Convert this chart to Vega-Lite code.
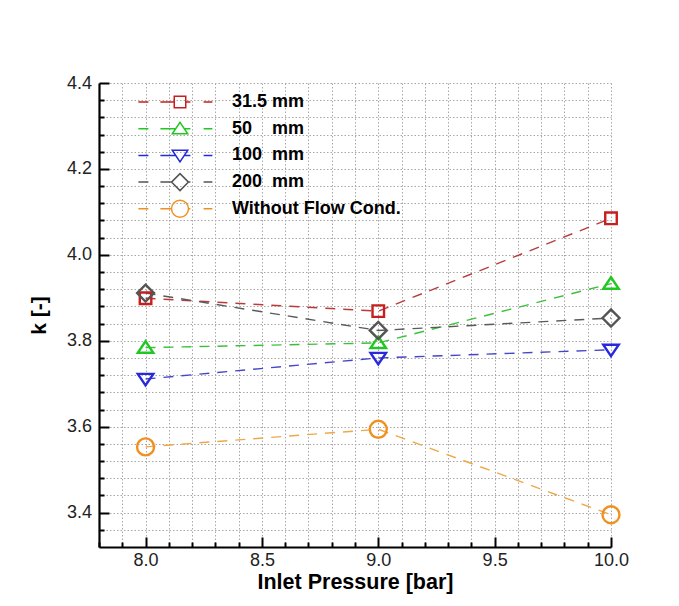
{
  "$schema": "https://vega.github.io/schema/vega-lite/v6.json",
  "width": 512,
  "height": 464,
  "autosize": {"type": "none"},
  "padding": {"left": 99, "top": 83, "right": 68, "bottom": 59},
  "background": "white",
  "config": {"view": {"stroke": null}},
  "data": {
    "values": [
      {"series": "31.5 mm", "p": 8.0, "k": 3.899},
      {"series": "31.5 mm", "p": 9.0, "k": 3.869},
      {"series": "31.5 mm", "p": 10.0, "k": 4.085},
      {"series": "50 mm", "p": 8.0, "k": 3.784},
      {"series": "50 mm", "p": 9.0, "k": 3.795},
      {"series": "50 mm", "p": 10.0, "k": 3.933},
      {"series": "100 mm", "p": 8.0, "k": 3.711},
      {"series": "100 mm", "p": 9.0, "k": 3.760},
      {"series": "100 mm", "p": 10.0, "k": 3.779},
      {"series": "200 mm", "p": 8.0, "k": 3.911},
      {"series": "200 mm", "p": 9.0, "k": 3.824},
      {"series": "200 mm", "p": 10.0, "k": 3.853},
      {"series": "Without Flow Cond.", "p": 8.0, "k": 3.553},
      {"series": "Without Flow Cond.", "p": 9.0, "k": 3.594},
      {"series": "Without Flow Cond.", "p": 10.0, "k": 3.395}
    ]
  },
  "encoding": {
    "x": {
      "field": "p",
      "type": "quantitative",
      "scale": {"domain": [7.8, 10.0], "nice": false, "zero": false},
      "axis": {
        "values": [7.8, 7.9, 8.0, 8.1, 8.2, 8.3, 8.4, 8.5, 8.6, 8.7, 8.8, 8.9, 9.0, 9.1, 9.2, 9.3, 9.4, 9.5, 9.6, 9.7, 9.8, 9.9, 10.0],
        "tickSize": {"condition": {"test": "abs(datum.value*2 - round(datum.value*2)) < 0.001", "value": -10}, "value": -5},
        "tickWidth": 2,
        "tickColor": "black",
        "labelExpr": "abs(datum.value*2 - round(datum.value*2)) < 0.001 ? format(datum.value, '.1f') : ''",
        "labelOverlap": false,
        "labelFlush": false,
        "labelPadding": 14,
        "labelFont": "Liberation Sans",
        "labelFontSize": 18,
        "labelColor": "#222222",
        "grid": true,
        "gridDash": [1.5, 2],
        "gridColor": "#a8a8a8",
        "gridWidth": 1,
        "domainColor": "black",
        "domainWidth": 2.2,
        "title": "Inlet Pressure [bar]",
        "titleFont": "Liberation Sans",
        "titleFontSize": 21.5,
        "titleFontWeight": "bold",
        "titleColor": "black",
        "titleY": 41,
        "titleBaseline": "alphabetic"
      }
    },
    "y": {
      "field": "k",
      "type": "quantitative",
      "scale": {"domain": [3.32, 4.4], "nice": false, "zero": false},
      "axis": {
        "values": [3.36, 3.4, 3.44, 3.48, 3.52, 3.56, 3.6, 3.64, 3.68, 3.72, 3.76, 3.8, 3.84, 3.88, 3.92, 3.96, 4.0, 4.04, 4.08, 4.12, 4.16, 4.2, 4.24, 4.28, 4.32, 4.36, 4.4],
        "tickSize": {"condition": {"test": "abs(datum.value*5 - round(datum.value*5)) < 0.001", "value": -10}, "value": -5},
        "tickWidth": 2,
        "tickColor": "black",
        "labelExpr": "abs(datum.value*5 - round(datum.value*5)) < 0.001 ? format(datum.value, '.1f') : ''",
        "labelOverlap": false,
        "labelFlush": false,
        "labelPadding": 17.5,
        "labelFont": "Liberation Sans",
        "labelFontSize": 18,
        "labelColor": "#222222",
        "grid": true,
        "gridDash": [1.5, 2],
        "gridColor": "#a8a8a8",
        "gridWidth": 1,
        "domainColor": "black",
        "domainWidth": 2.2,
        "title": "k [-]",
        "titleFont": "Liberation Sans",
        "titleFontSize": 21,
        "titleFontWeight": "bold",
        "titleColor": "black",
        "titleX": -60,
        "titleY": 232,
        "titleBaseline": "middle"
      }
    }
  },
  "layer": [
    {
      "mark": {"type": "line", "strokeDash": [10, 8], "strokeWidth": 1.4},
      "encoding": {
        "color": {
          "field": "series",
          "type": "nominal",
          "scale": {
            "domain": ["31.5 mm", "50 mm", "100 mm", "200 mm", "Without Flow Cond."],
            "range": ["#b83c3c", "#3cc03c", "#4646c8", "#5a5a5a", "#eea848"]
          },
          "legend": null
        }
      }
    },
    {
      "mark": {"type": "point", "filled": false, "strokeWidth": 2.4, "size": 256, "opacity": 1},
      "encoding": {
        "color": {
          "field": "series",
          "type": "nominal",
          "scale": {
            "domain": ["31.5 mm", "50 mm", "100 mm", "200 mm", "Without Flow Cond."],
            "range": ["#c81e1e", "#22c822", "#2828dc", "#555555", "#f0901e"]
          },
          "legend": null
        },
        "shape": {
          "field": "series",
          "type": "nominal",
          "scale": {
            "domain": ["31.5 mm", "50 mm", "100 mm", "200 mm", "Without Flow Cond."],
            "range": [
              "M -0.72 -0.72 L 0.72 -0.72 L 0.72 0.72 L -0.72 0.72 Z",
              "M 0 -0.8 L 0.97 0.64 L -0.97 0.64 Z",
              "M 0 0.8 L 0.97 -0.64 L -0.97 -0.64 Z",
              "M -1.06 0 L 0 -1.06 L 1.06 0 L 0 1.06 Z",
              "M 1.06 0 A 1.06 1.06 0 1 1 -1.06 0 A 1.06 1.06 0 1 1 1.06 0 Z"
            ]
          },
          "legend": null
        }
      }
    },
    {
      "transform": [{"filter": "false"}],
      "mark": {"type": "point", "filled": false, "strokeWidth": 2, "size": 256, "opacity": 1},
      "encoding": {
        "color": {
          "field": "series",
          "type": "nominal",
          "scale": {
            "domain": ["31.5 mm", "50 mm", "100 mm", "200 mm", "Without Flow Cond."],
            "range": ["#c81e1e", "#22c822", "#2828dc", "#555555", "#f0901e"]
          },
          "legend": {
            "orient": "none",
            "legendX": 72,
            "legendY": 10,
            "title": null,
            "padding": 0,
            "gridAlign": "all",
            "labelFont": "Liberation Sans",
            "labelFontSize": 18,
            "labelFontWeight": "bold",
            "labelColor": "black",
            "labelOffset": 43,
            "labelLimit": 400,
            "rowPadding": 2.7,
            "symbolSize": 256,
            "labelExpr": "datum.label == '50 mm' ? '50\u00a0\u00a0\u00a0 mm' : ((datum.label == '100 mm' || datum.label == '200 mm') ? replace(datum.label, ' ', '\u00a0 ') : datum.label)"
          }
        },
        "shape": {
          "field": "series",
          "type": "nominal",
          "scale": {
            "domain": ["31.5 mm", "50 mm", "100 mm", "200 mm", "Without Flow Cond."],
            "range": [
              "M -5.2 0 L -3.95 0 M -2.45 0 L -0.72 0 M 0.72 0 L 1.3 0 M 2.95 0 L 4.05 0 M -0.72 -0.72 L 0.72 -0.72 L 0.72 0.72 L -0.72 0.72 Z",
              "M -5.2 0 L -3.95 0 M -2.45 0 L -0.54 0 M 0.54 0 L 1.3 0 M 2.95 0 L 4.05 0 M 0 -0.8 L 0.97 0.64 L -0.97 0.64 Z",
              "M -5.2 0 L -3.95 0 M -2.45 0 L -0.54 0 M 0.54 0 L 1.3 0 M 2.95 0 L 4.05 0 M 0 0.8 L 0.97 -0.64 L -0.97 -0.64 Z",
              "M -5.2 0 L -3.95 0 M -2.45 0 L -1.06 0 M 1.06 0 L 1.3 0 M 2.95 0 L 4.05 0 M -1.06 0 L 0 -1.06 L 1.06 0 L 0 1.06 Z",
              "M -5.2 0 L -3.95 0 M -2.45 0 L -1.06 0 M 1.06 0 L 1.3 0 M 2.95 0 L 4.05 0 M 1.06 0 A 1.06 1.06 0 1 1 -1.06 0 A 1.06 1.06 0 1 1 1.06 0 Z"
            ]
          },
          "legend": {
            "orient": "none",
            "legendX": 72,
            "legendY": 10,
            "title": null,
            "padding": 0,
            "gridAlign": "all",
            "labelFont": "Liberation Sans",
            "labelFontSize": 18,
            "labelFontWeight": "bold",
            "labelColor": "black",
            "labelOffset": 43,
            "labelLimit": 400,
            "rowPadding": 2.7,
            "symbolSize": 256,
            "labelExpr": "datum.label == '50 mm' ? '50\u00a0\u00a0\u00a0 mm' : ((datum.label == '100 mm' || datum.label == '200 mm') ? replace(datum.label, ' ', '\u00a0 ') : datum.label)"
          }
        }
      }
    }
  ],
  "resolve": {"scale": {"color": "independent", "shape": "independent"}}
}
